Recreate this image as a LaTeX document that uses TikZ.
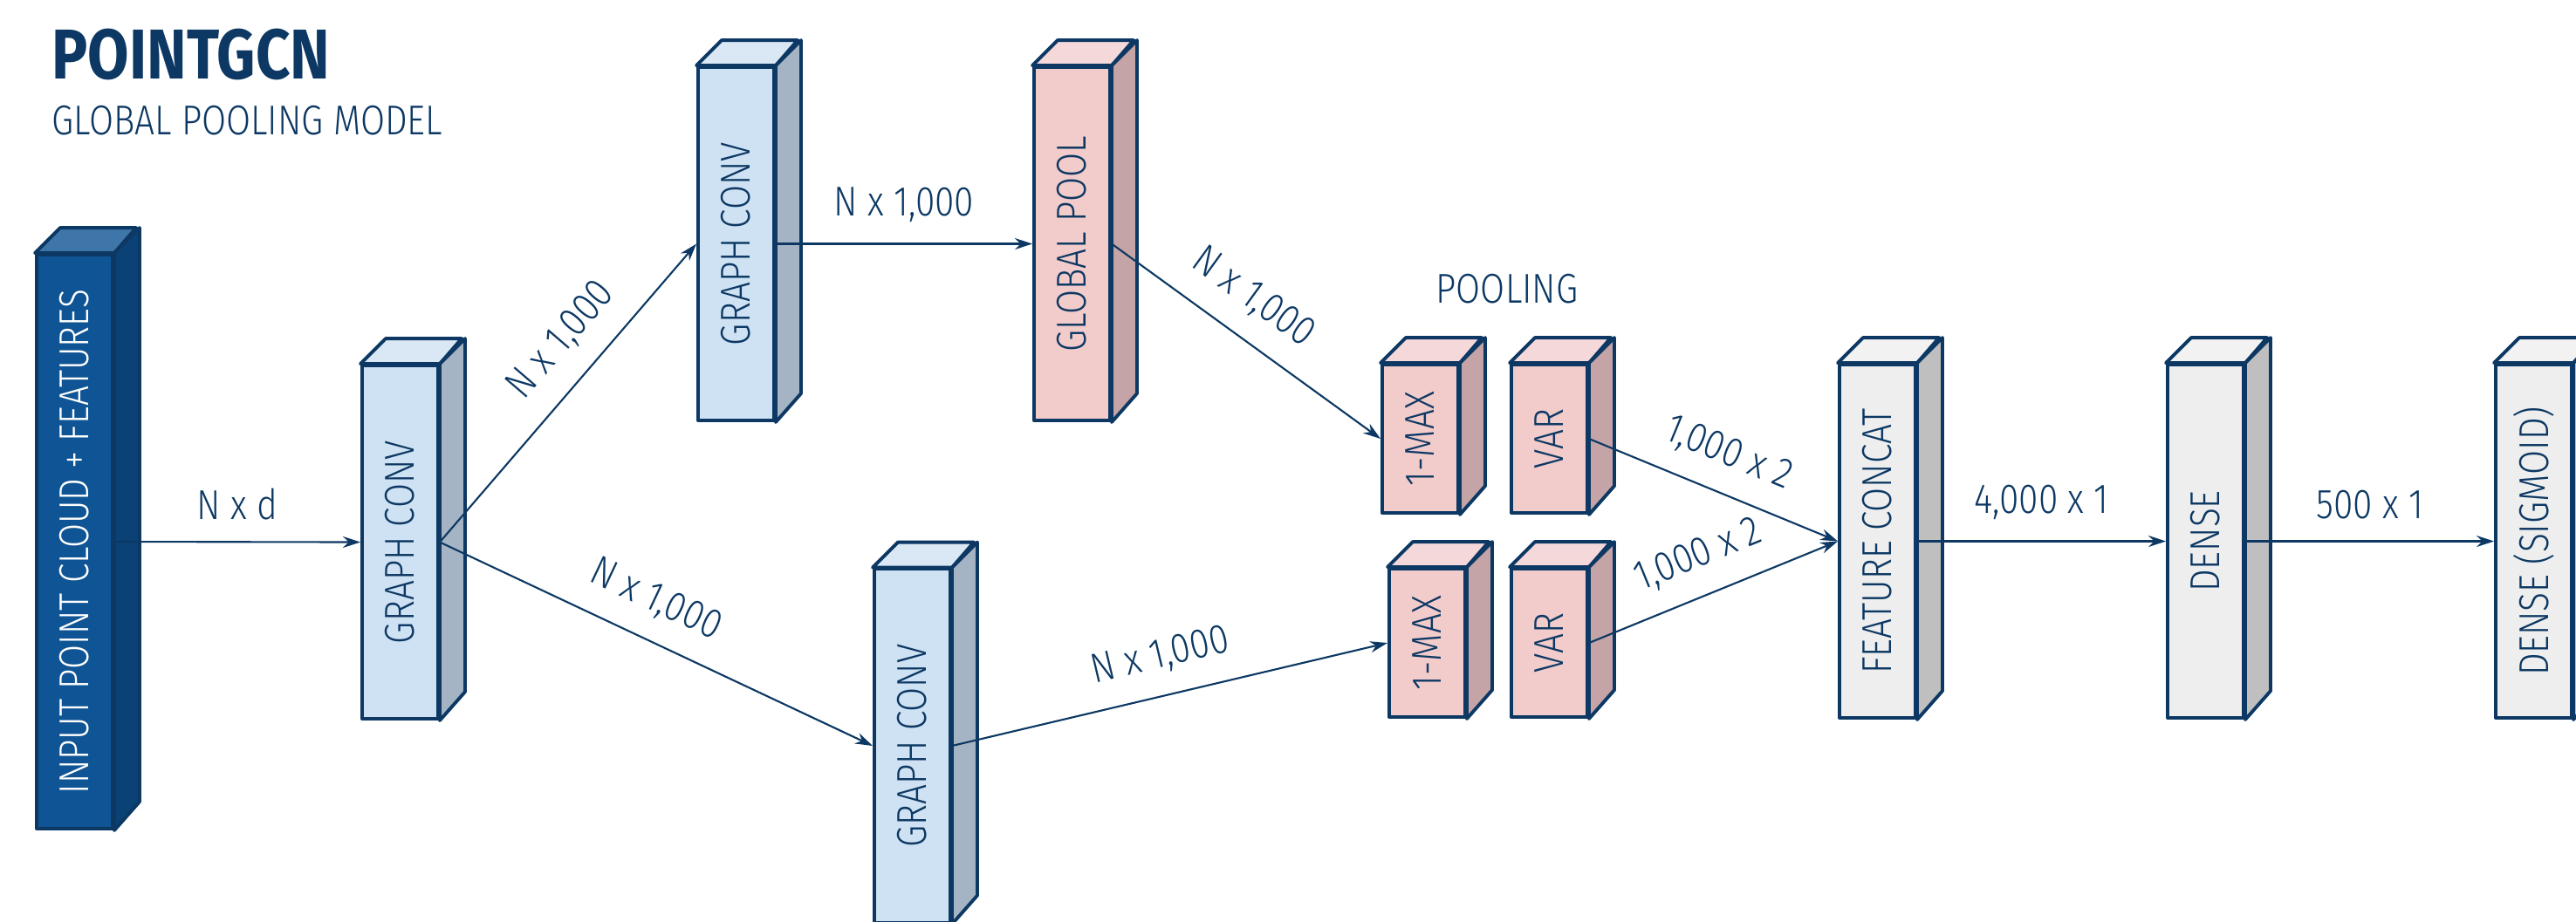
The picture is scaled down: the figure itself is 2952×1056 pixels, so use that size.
\documentclass[tikz,border=0pt]{standalone}
\usepackage{fontspec}
\setmainfont{Fira Sans}[UprightFont=* Light,BoldFont=* Bold,FakeStretch=0.85]
\usetikzlibrary{arrows.meta}
\definecolor{marine}{RGB}{12,56,99}
% couleurs : 0 texte, 1 face avant, 2 dessus, 3 cote
\definecolor{in0}{RGB}{255,255,255}
\definecolor{in1}{RGB}{15,84,148}
\definecolor{in2}{RGB}{62,118,170}
\definecolor{in3}{RGB}{11,66,117}
\definecolor{bl0}{RGB}{12,56,99}
\definecolor{bl1}{RGB}{207,226,243}
\definecolor{bl2}{RGB}{218,232,245}
\definecolor{bl3}{RGB}{165,180,196}
\definecolor{rs0}{RGB}{12,56,99}
\definecolor{rs1}{RGB}{242,203,203}
\definecolor{rs2}{RGB}{245,216,218}
\definecolor{rs3}{RGB}{196,164,166}
\definecolor{gr0}{RGB}{12,56,99}
\definecolor{gr1}{RGB}{238,238,238}
\definecolor{gr2}{RGB}{242,242,242}
\definecolor{gr3}{RGB}{191,191,191}

\begin{document}
\begin{tikzpicture}[x=0.01cm,y=-0.01cm]
  \tikzstyle{face}=[draw=marine,line width=1.1pt,line join=round]
  \tikzstyle{bloc}=[face,minimum width=0.87cm,inner sep=0pt]
  \tikzstyle{fl}=[marine,line width=0.6pt,-{Stealth[length=2mm,width=1.3mm]}]
  \tikzstyle{lbl}=[text=marine,font=\fontsize{13.6}{16}\selectfont,inner sep=0pt]
  % Cadre
  \useasboundingbox (0,0) rectangle (2952,1056);
  \clip (0,0) rectangle (2952,1056);
  % Titre
  \node[lbl,anchor=base west,font=\bfseries\fontsize{23}{28}\selectfont] (titre) at (59,90) {POINTGCN};
  \node[lbl,anchor=base west] (soustitre) at (59,154) {GLOBAL POOLING MODEL};
  % Couches (face avant + dessus + cote)
  \foreach \nom/\x/\y/\h/\col/\txt in {
      inp/85.5/621/658/in/{INPUT POINT CLOUD + FEATURES},
      gca/458.5/621.5/405/bl/{GRAPH CONV},
      gcb/843.5/279.5/405/bl/{GRAPH CONV},
      gpool/1228.5/279.5/405/rs/{GLOBAL POOL},
      gcc/1045.5/855/405/bl/{GRAPH CONV},
      maxa/1627.5/503/170/rs/{1-MAX},
      vara/1775.5/503/170/rs/{VAR},
      maxb/1635.5/737/170/rs/{1-MAX},
      varb/1775.5/737/170/rs/{VAR},
      concat/2151.5/620.5/405/gr/{FEATURE CONCAT},
      dense/2527.5/620.5/405/gr/{DENSE},
      sig/2903.5/620.5/405/gr/{DENSE (SIGMOID)}}{
    \node[bloc,fill=\col1,minimum height=\h*0.01cm] (\nom) at (\x,\y) {};
    \draw[face,fill=\col2] (\nom.north west) -- ++(29,-29) -- ++(87,0) -- (\nom.north east) -- cycle;
    \draw[face,fill=\col3] (\nom.north east) -- ++(29,-29) -- ++(0,\h) -- (\nom.south east) -- cycle;
    \node[lbl,text=\col0,rotate=90] (\nom-t) at (\nom) {\txt};
  }
  \node[lbl,anchor=base] (pooling) at (1727,347) {POOLING};
  % Fleches
  \draw[fl] (inp.east) -- node[lbl,above=2.4mm] (l1) {N x d} (gca.west);
  \draw[fl] (gca.east) -- node[lbl,sloped,above=2.4mm,pos=0.59] (l2) {N x 1,000} (gcb.west);
  \draw[fl] (gca.east) -- node[lbl,sloped,above=2.4mm,pos=0.46] (l3) {N x 1,000} (gcc.west);
  \draw[fl] (gcb.east) -- node[lbl,above=2.4mm] (l4) {N x 1,000} (gpool.west);
  \draw[fl] (gpool.east) -- node[lbl,sloped,above=2.4mm,pos=0.44] (l5) {N x 1,000} (maxa.west);
  \draw[fl] (gcc.east) -- node[lbl,sloped,above=2.4mm] (l6) {N x 1,000} (maxb.west);
  \draw[fl] (vara.east) -- node[lbl,sloped,above=2.4mm] (l7) {1,000 x 2} (concat.west);
  \draw[fl] (varb.east) -- node[lbl,sloped,above=2.4mm] (l8) {1,000 x 2} (concat.west);
  \draw[fl] (concat.east) -- node[lbl,above=2.4mm] (l9) {4,000 x 1} (dense.west);
  \draw[fl] (dense.east) -- node[lbl,above=2.4mm] (l10) {500 x 1} (sig.west);
\end{tikzpicture}
\end{document}
